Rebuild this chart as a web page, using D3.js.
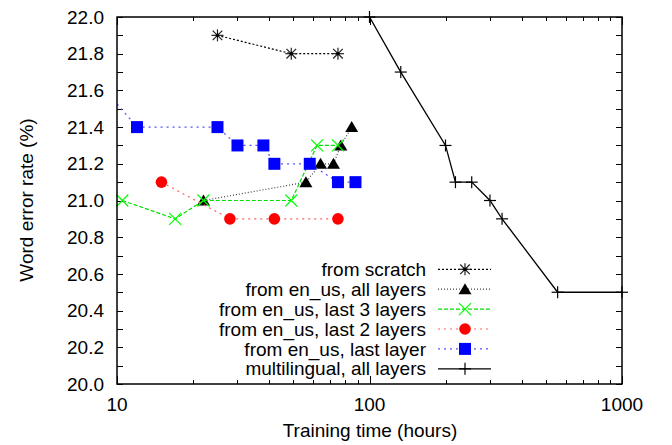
<!DOCTYPE html>
<html>
<head>
<meta charset="utf-8">
<script src="https://cdn.jsdelivr.net/npm/d3@7"></script>
<style>
  body { margin: 0; background: #fff; }
  text { font-family: "Liberation Sans", Arial, sans-serif; fill: #000; }
</style>
</head>
<body>
<div id="chart"></div>
<script>
// series (hours, word error rate %)
const scratch_x = [25, 49, 75];
const scratch_y = [21.9, 21.8, 21.8];
const all_x = [22, 56, 64, 72, 77, 85];
const all_y = [21.0, 21.1, 21.2, 21.2, 21.3, 21.4];
const last3_x = [10.5, 17, 22, 49, 62, 75];
const last3_y = [21.0, 20.9, 21.0, 21.0, 21.3, 21.3];
const last2_x = [15, 28, 42, 75];
const last2_y = [21.1, 20.9, 20.9, 20.9];
const last1_x = [9, 12, 25, 30, 38, 42, 58, 75, 88];
const last1_y = [21.6, 21.4, 21.4, 21.3, 21.3, 21.2, 21.2, 21.1, 21.1];
const multi_x = [100, 133, 200, 219, 254, 300, 335, 556, 1000];
const multi_y = [22.0, 21.7, 21.3, 21.1, 21.1, 21.0, 20.9, 20.5, 20.5];

const x_ticks = [10, 100, 1000];
const y_ticks = [20.0, 20.2, 20.4, 20.6, 20.8, 21.0, 21.2, 21.4, 21.6, 21.8, 22.0];

const series = [
    { name: "from scratch", xs: scratch_x, ys: scratch_y, color: "#000", dash: "2,2", marker: "star", mcolor: "#000" },
    { name: "from en_us, all layers", xs: all_x, ys: all_y, color: "#444", dash: "1,2", marker: "triangle", mcolor: "#000" },
    { name: "from en_us, last 3 layers", xs: last3_x, ys: last3_y, color: "#00e000", dash: "4,2", marker: "cross", mcolor: "#00ff00" },
    { name: "from en_us, last 2 layers", xs: last2_x, ys: last2_y, color: "#ff6060", dash: "2,4", marker: "circle", mcolor: "#ff0000" },
    { name: "from en_us, last layer", xs: last1_x, ys: last1_y, color: "#5050ff", dash: "2,4", marker: "square", mcolor: "#0000ff" },
    { name: "multilingual, all layers", xs: multi_x, ys: multi_y, color: "#000", dash: null, marker: "plus", mcolor: "#000" }
];

const W = 672, H = 445;
const margin = { top: 17, right: 50, bottom: 61, left: 117 };
const width = 622 - margin.left;
const height = 384 - margin.top;

const svg = d3.select("#chart").append("svg")
    .attr("width", W)
    .attr("height", H)
    .append("g")
    .attr("transform", `translate(${margin.left},${margin.top})`);

const x = d3.scaleLog().domain([10, 1000]).range([0, width]);
const y = d3.scaleLinear().domain([20, 22]).range([height, 0]);

svg.append("defs").append("clipPath").attr("id", "plot-clip")
    .append("rect").attr("width", width).attr("height", height);

// minor/major ticks, mirrored on all four sides
const tickG = svg.append("g").attr("stroke", "#000").attr("stroke-width", 1);
const xminor = [];
for (let dec = 10; dec < 1000; dec *= 10) {
    for (let k = 2; k <= 9; k++) xminor.push(dec * k);
}
xminor.forEach(v => {
    const px = Math.round(x(v)) + 0.5;
    tickG.append("line").attr("x1", px).attr("x2", px).attr("y1", height).attr("y2", height - 4);
    tickG.append("line").attr("x1", px).attr("x2", px).attr("y1", 0).attr("y2", 4);
});
x_ticks.forEach(v => {
    const px = Math.round(x(v)) + 0.5;
    tickG.append("line").attr("x1", px).attr("x2", px).attr("y1", height).attr("y2", height - 8);
    tickG.append("line").attr("x1", px).attr("x2", px).attr("y1", 0).attr("y2", 8);
});
d3.range(0, 21).map(i => 20 + i * 0.1).forEach(v => {
    const py = Math.round(y(v)) + 0.5;
    tickG.append("line").attr("x1", 0).attr("x2", 6).attr("y1", py).attr("y2", py);
    tickG.append("line").attr("x1", width).attr("x2", width - 6).attr("y1", py).attr("y2", py);
});

// tick labels
svg.selectAll(".xlab").data(x_ticks).enter().append("text")
    .attr("x", d => x(d))
    .attr("y", height + 27)
    .attr("text-anchor", "middle")
    .style("font-size", "19px")
    .text(d => d);
svg.selectAll(".ylab").data(y_ticks).enter().append("text")
    .attr("x", -13)
    .attr("y", d => y(d))
    .attr("dy", "0.35em")
    .attr("text-anchor", "end")
    .style("font-size", "19px")
    .text(d => d.toFixed(1));

// axis titles
svg.append("text")
    .attr("x", 370 - margin.left)
    .attr("y", 437 - margin.top)
    .attr("text-anchor", "middle")
    .style("font-size", "19px")
    .text("Training time (hours)");
svg.append("text")
    .attr("transform", `translate(${33 - margin.left},${200 - margin.top}) rotate(-90)`)
    .attr("text-anchor", "middle")
    .style("font-size", "19px")
    .text("Word error rate (%)");

function drawMarker(g, type, cx, cy, color) {
    const s = 6;
    if (type === "star") {
        const p = g.append("g").attr("stroke", "#222").attr("stroke-width", 1.2);
        p.append("line").attr("x1", cx - s).attr("x2", cx + s).attr("y1", cy).attr("y2", cy);
        p.append("line").attr("x1", cx).attr("x2", cx).attr("y1", cy - s).attr("y2", cy + s);
        p.append("line").attr("x1", cx - s * 0.8).attr("x2", cx + s * 0.8).attr("y1", cy - s * 0.8).attr("y2", cy + s * 0.8);
        p.append("line").attr("x1", cx - s * 0.8).attr("x2", cx + s * 0.8).attr("y1", cy + s * 0.8).attr("y2", cy - s * 0.8);
        g.append("circle").attr("cx", cx).attr("cy", cy).attr("r", 1.8).attr("fill", "#000");
    } else if (type === "triangle") {
        g.append("path")
            .attr("d", `M${cx},${cy - 6}L${cx + 6.5},${cy + 5}L${cx - 6.5},${cy + 5}Z`)
            .attr("fill", color);
    } else if (type === "cross") {
        const p = g.append("g").attr("stroke", color).attr("stroke-width", 1.2);
        p.append("line").attr("x1", cx - s).attr("x2", cx + s).attr("y1", cy - s).attr("y2", cy + s);
        p.append("line").attr("x1", cx - s).attr("x2", cx + s).attr("y1", cy + s).attr("y2", cy - s);
    } else if (type === "circle") {
        g.append("circle").attr("cx", cx).attr("cy", cy).attr("r", 5.8).attr("fill", color);
    } else if (type === "square") {
        g.append("rect").attr("x", cx - 6).attr("y", cy - 6).attr("width", 12).attr("height", 12).attr("fill", color);
    } else if (type === "plus") {
        const p = g.append("g").attr("stroke", color).attr("stroke-width", 1.2);
        p.append("line").attr("x1", cx - s).attr("x2", cx + s).attr("y1", cy).attr("y2", cy);
        p.append("line").attr("x1", cx).attr("x2", cx).attr("y1", cy - s).attr("y2", cy + s);
    }
}

const line = d3.line().x(d => x(d[0])).y(d => y(d[1]));

series.forEach(s => {
    const pts = s.xs.map((v, i) => [v, s.ys[i]]);
    svg.append("path")
        .datum(pts)
        .attr("clip-path", "url(#plot-clip)")
        .attr("fill", "none")
        .attr("stroke", s.color)
        .attr("stroke-width", s.dash ? 1.2 : 1.3)
        .attr("stroke-dasharray", s.dash)
        .attr("d", line);
    const mg = svg.append("g");
    pts.filter(d => d[0] >= 10 && d[0] <= 1000 && d[1] >= 20 && d[1] <= 22)
        .forEach(d => drawMarker(mg, s.marker, x(d[0]), y(d[1]), s.mcolor));
});

// legend
const leg = svg.append("g");
series.forEach((s, i) => {
    const cy = 269.3 + i * 19.9 - margin.top;
    leg.append("text")
        .attr("x", 426 - margin.left)
        .attr("y", cy)
        .attr("dy", "0.35em")
        .attr("text-anchor", "end")
        .style("font-size", "19px")
        .text(s.name);
    leg.append("line")
        .attr("x1", 438 - margin.left)
        .attr("x2", 491 - margin.left)
        .attr("y1", cy)
        .attr("y2", cy)
        .attr("stroke", s.color)
        .attr("stroke-width", s.dash ? 1.2 : 1.3)
        .attr("stroke-dasharray", s.dash);
    drawMarker(leg, s.marker, 465 - margin.left, cy, s.mcolor);
});

// border
svg.append("rect")
    .attr("width", width)
    .attr("height", height)
    .attr("fill", "none")
    .attr("stroke", "#000")
    .attr("stroke-width", 1.5);
</script>
</body>
</html>
